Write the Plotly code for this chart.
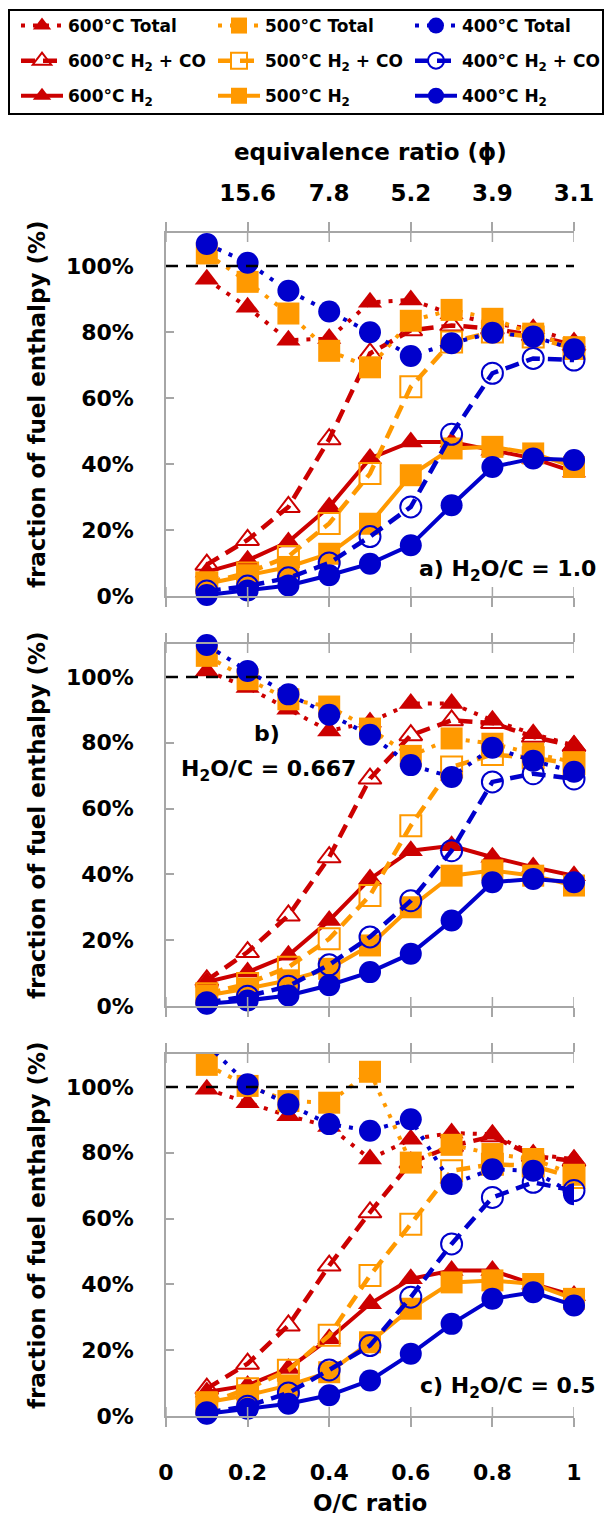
import plotly.graph_objects as go

# ---------------- data ----------------
oc_ratio = [0.1, 0.2, 0.3, 0.4, 0.5, 0.6, 0.7, 0.8, 0.9, 1.0]

x_tick_vals = [0, 0.2, 0.4, 0.6, 0.8, 1.0]
x_tick_text = ["0", "0.2", "0.4", "0.6", "0.8", "1"]
phi_tick_vals = [0.2, 0.4, 0.6, 0.8, 1.0]
phi_tick_text = ["15.6", "7.8", "5.2", "3.9", "3.1"]
y_tick_vals = [0, 20, 40, 60, 80, 100]
y_tick_text = ["0%", "20%", "40%", "60%", "80%", "100%"]
reference_level = 100

series_names = ["600°C Total", "600°C H<sub>2</sub> + CO", "600°C H<sub>2</sub>",
                "500°C Total", "500°C H<sub>2</sub> + CO", "500°C H<sub>2</sub>",
                "400°C Total", "400°C H<sub>2</sub> + CO", "400°C H<sub>2</sub>"]

panel_labels = ["a) H<sub>2</sub>O/C = 1.0", "b)", "H<sub>2</sub>O/C = 0.667", "c) H<sub>2</sub>O/C = 0.5"]

# panel a) H2O/C = 1.0
a_600_total = [96.0, 87.5, 77.5, 78.0, 89.0, 89.7, 85.5, 82.5, 81.0, 77.0]
a_600_h2co = [9.5, 17.0, 27.0, 47.5, 73.5, 80.5, 82.0, 81.0, 79.0, 76.0]
a_600_h2 = [7.3, 10.8, 16.4, 27.0, 41.7, 46.7, 46.7, 44.2, 41.7, 37.6]
a_500_total = [103.8, 95.2, 85.6, 74.3, 69.3, 83.4, 86.7, 84.0, 79.5, 75.4]
a_500_h2co = [4.0, 7.0, 12.0, 22.0, 37.1, 63.4, 77.0, 80.0, 78.5, 75.0]
a_500_h2 = [3.7, 6.3, 8.8, 12.8, 21.9, 36.6, 44.7, 45.2, 43.2, 39.1]
a_400_total = [106.7, 101.0, 92.5, 86.2, 79.9, 72.7, 76.6, 79.8, 78.6, 74.8]
a_400_h2co = [1.5, 3.0, 5.5, 10.0, 18.0, 27.0, 49.0, 67.5, 72.0, 71.5]
a_400_h2 = [0.3, 1.7, 3.2, 6.3, 9.8, 15.4, 27.5, 39.1, 41.7, 41.2]

# panel b) H2O/C = 0.667
b_600_total = [101.8, 96.8, 90.2, 83.6, 86.3, 91.9, 91.9, 86.8, 82.7, 79.2]
b_600_h2co = [7.8, 16.4, 27.5, 45.2, 69.1, 82.3, 86.8, 86.0, 81.8, 79.0]
b_600_h2 = [7.3, 10.3, 15.4, 26.0, 38.6, 47.2, 48.7, 45.2, 42.2, 39.6]
b_500_total = [106.4, 99.3, 93.2, 91.0, 84.3, 76.0, 81.3, 79.7, 76.7, 74.1]
b_500_h2co = [3.7, 6.8, 11.8, 20.4, 33.6, 54.8, 72.6, 76.4, 75.4, 73.6]
b_500_h2 = [3.2, 5.3, 7.8, 11.3, 18.4, 30.0, 39.6, 41.2, 39.6, 36.6]
b_400_total = [109.7, 101.8, 94.7, 88.5, 82.4, 73.2, 69.6, 78.5, 74.5, 71.2]
b_400_h2co = [1.0, 3.0, 6.0, 12.5, 21.0, 32.0, 47.2, 68.1, 70.6, 69.0]
b_400_h2 = [0.7, 1.7, 3.2, 6.3, 10.3, 15.9, 26.0, 37.6, 38.6, 37.6]

# panel c) H2O/C = 0.5
c_600_total = [99.3, 95.2, 91.2, 88.0, 78.1, 84.1, 86.0, 85.6, 79.6, 78.0]
c_600_h2co = [8.3, 15.9, 27.5, 45.7, 61.9, 77.0, 82.0, 85.0, 79.0, 77.5]
c_600_h2 = [7.3, 9.3, 14.4, 23.5, 34.1, 41.7, 44.2, 44.2, 40.1, 36.6]
c_500_total = [106.7, 100.3, 95.7, 95.2, 104.6, 77.0, 82.4, 79.6, 78.1, 73.3]
c_500_h2co = [3.7, 8.3, 13.9, 24.5, 42.7, 58.3, 74.5, 76.5, 76.0, 72.5]
c_500_h2 = [4.2, 6.3, 9.3, 13.3, 22.4, 32.6, 40.6, 41.2, 40.1, 35.6]
c_400_total = [113.0, 100.8, 94.7, 88.7, 86.7, 90.2, 70.5, 75.0, 74.5, 67.4]
c_400_h2co = [1.0, 3.0, 7.0, 14.0, 21.4, 36.1, 52.3, 66.4, 71.0, 68.5]
c_400_h2 = [0.7, 2.2, 3.7, 6.3, 10.8, 18.9, 28.0, 35.6, 37.6, 33.6]

panels = [
    [a_600_total, a_600_h2co, a_600_h2, a_500_total, a_500_h2co, a_500_h2, a_400_total, a_400_h2co, a_400_h2],
    [b_600_total, b_600_h2co, b_600_h2, b_500_total, b_500_h2co, b_500_h2, b_400_total, b_400_h2co, b_400_h2],
    [c_600_total, c_600_h2co, c_600_h2, c_500_total, c_500_h2co, c_500_h2, c_400_total, c_400_h2co, c_400_h2],
]

# ---------------- styles ----------------
RED, ORANGE, BLUE = "#CC0000", "#FF9900", "#0000CC"
GRAY = "#A6A6A6"
FONT = "DejaVu Sans"
W, H = 604, 1517
PL, PR, PT, PB = 166, 574, 233, 1416


def px_x(px):
    return (px - PL) / (PR - PL)


def px_y(py):
    return (PB - py) / (PB - PT)


colors = [RED, RED, RED, ORANGE, ORANGE, ORANGE, BLUE, BLUE, BLUE]
base_symbols = ["triangle-up"] * 3 + ["square"] * 3 + ["circle"] * 3
kinds = ["total", "h2co", "h2"] * 3
legend_ids = ["legend"] * 3 + ["legend2"] * 3 + ["legend3"] * 3

kind_line = {
    "total": dict(width=4, dash="4px,8px"),
    "h2co": dict(width=4.5, dash="14px,8px"),
    "h2": dict(width=4, dash="solid"),
}

fig = go.Figure()
axis_ids = [("x", "y"), ("x2", "y2"), ("x3", "y3")]

for p, pdata in enumerate(panels):
    xa, ya = axis_ids[p]
    for s, vals in enumerate(pdata):
        kind = kinds[s]
        sym = base_symbols[s]
        size = 21 if sym == "triangle-up" else 22
        if kind == "h2co":
            marker = dict(symbol=sym + "-open", size=size - 1, color=colors[s],
                          line=dict(color=colors[s], width=2))
        else:
            marker = dict(symbol=sym, size=size, color=colors[s], line=dict(width=0))
        clip = (p == 2 and s == 6)
        fig.add_trace(go.Scatter(
            x=oc_ratio, y=vals, xaxis=xa, yaxis=ya,
            mode="lines+markers", name=series_names[s],
            line=dict(color=colors[s], **kind_line[kind]),
            marker=marker, cliponaxis=clip,
            legend=legend_ids[s], legendgroup=series_names[s],
            showlegend=(p == 0),
        ))

# invisible carrier so the top (equivalence ratio) axis of panel a is drawn
fig.add_trace(go.Scatter(x=oc_ratio, y=a_600_total, xaxis="x4", yaxis="y", mode="markers",
                         marker=dict(opacity=0), hoverinfo="skip", showlegend=False))

tick_font = dict(family=FONT, size=22, color="black", weight="bold")

domains = [[px_y(596), 1.0], [px_y(1006), px_y(644)], [0.0, px_y(1054)]]

layout = dict(
    width=W, height=H, autosize=False,
    margin=dict(l=PL, r=W - PR, t=PT, b=H - PB, pad=0, autoexpand=False),
    paper_bgcolor="white", plot_bgcolor="white",
    font=dict(family=FONT, color="black"),
    showlegend=True,
)

for i in range(3):
    sx = "" if i == 0 else str(i + 1)
    layout["xaxis" + sx] = dict(
        domain=[0, 1], range=[0, 1], anchor="y" + sx,
        showline=True, linecolor=GRAY, linewidth=1.5,
        ticks="outside", ticklen=9, tickcolor=GRAY, tickwidth=1.5,
        tickvals=x_tick_vals, ticktext=x_tick_text, mirror="ticks",
        showgrid=False, zeroline=False, automargin=False,
        showticklabels=(i == 2), tickfont=dict(family=FONT, size=22, color="black", weight="bold"),
        ticklabelstandoff=27,
    )
    layout["yaxis" + sx] = dict(
        domain=domains[i], range=[0, 110], anchor="x" + sx,
        showline=True, linecolor=GRAY, linewidth=1.5,
        ticks="inside", ticklen=8, tickcolor=GRAY, tickwidth=1.5,
        tickvals=y_tick_vals, ticktext=y_tick_text, automargin=False,
        showgrid=False, zeroline=False, tickfont=tick_font,
        ticklabelstandoff=26,
    )

layout["xaxis4"] = dict(
    overlaying="x", side="top", anchor="y", range=[0, 1],
    tickvals=phi_tick_vals, ticktext=phi_tick_text, ticks="",
    showline=False, showgrid=False, zeroline=False, automargin=False,
    tickfont=dict(family=FONT, size=23, color="black", weight="bold"),
    ticklabelstandoff=26,
)

legend_common = dict(
    orientation="v", xanchor="left", yanchor="top",
    bgcolor="rgba(0,0,0,0)", borderwidth=0,
    font=dict(family=FONT, size=17, color="black", weight="bold"),
    itemwidth=42, tracegroupgap=10, itemsizing="trace",
)
layout["legend"] = dict(x=px_x(16), y=px_y(8), **legend_common)
layout["legend2"] = dict(x=px_x(213), y=px_y(8), **legend_common)
layout["legend3"] = dict(x=px_x(410), y=px_y(8), **legend_common)

fig.update_layout(**layout)

# ---------------- shapes: reference line, inner halves of cross ticks, legend box ----------------
shapes = []
tick_frac = 9 / 363
for i in range(3):
    sx = "" if i == 0 else str(i + 1)
    shapes.append(dict(type="line", xref="x" + sx, yref="y" + sx, x0=0, x1=1,
                       y0=reference_level, y1=reference_level,
                       line=dict(color="black", width=2.5, dash="12px,8px")))
    for t in x_tick_vals:
        shapes.append(dict(type="line", xref="x" + sx, yref="y" + sx + " domain",
                           x0=t, x1=t, y0=0, y1=tick_frac, line=dict(color=GRAY, width=1.5)))
        shapes.append(dict(type="line", xref="x" + sx, yref="y" + sx + " domain",
                           x0=t, x1=t, y0=1, y1=1 - tick_frac, line=dict(color=GRAY, width=1.5)))
shapes.append(dict(type="rect", xref="paper", yref="paper",
                   x0=px_x(9), x1=px_x(603), y0=px_y(114), y1=px_y(10),
                   line=dict(color="black", width=2), fillcolor="rgba(0,0,0,0)", layer="below"))
fig.update_layout(shapes=shapes)

# ---------------- text ----------------
title_font = dict(family=FONT, size=23, color="black", weight="bold")
ann = []
for py in [404, 815, 1225]:
    ann.append(dict(text="fraction of fuel enthalpy (%)", textangle=-90, xref="paper", yref="paper",
                    x=px_x(37), y=px_y(py), xanchor="center", yanchor="middle",
                    showarrow=False, font=title_font))
ann.append(dict(text="equivalence ratio (ϕ)", xref="paper", yref="paper",
                x=0.5, y=px_y(152), xanchor="center", yanchor="middle", showarrow=False, font=title_font))
ann.append(dict(text="O/C ratio", xref="paper", yref="paper",
                x=0.5, y=px_y(1503), xanchor="center", yanchor="middle", showarrow=False, font=title_font))
lab_font = dict(family=FONT, size=22, color="black", weight="bold")
ann.append(dict(text=panel_labels[0], xref="paper", yref="paper", x=px_x(598), y=px_y(570),
                xanchor="right", yanchor="middle", showarrow=False, font=lab_font))
ann.append(dict(text=panel_labels[1], xref="paper", yref="paper", x=px_x(267), y=px_y(733),
                xanchor="center", yanchor="middle", showarrow=False, font=lab_font))
ann.append(dict(text=panel_labels[2], xref="paper", yref="paper", x=px_x(268), y=px_y(770),
                xanchor="center", yanchor="middle", showarrow=False, font=lab_font))
ann.append(dict(text=panel_labels[3], xref="paper", yref="paper", x=px_x(598), y=px_y(1387),
                xanchor="right", yanchor="middle", showarrow=False, font=lab_font))
fig.update_layout(annotations=ann)

fig.write_html("out.html", config={"displayModeBar": False},
               post_script="document.body.style.margin='0px';document.body.style.overflow='hidden';")
